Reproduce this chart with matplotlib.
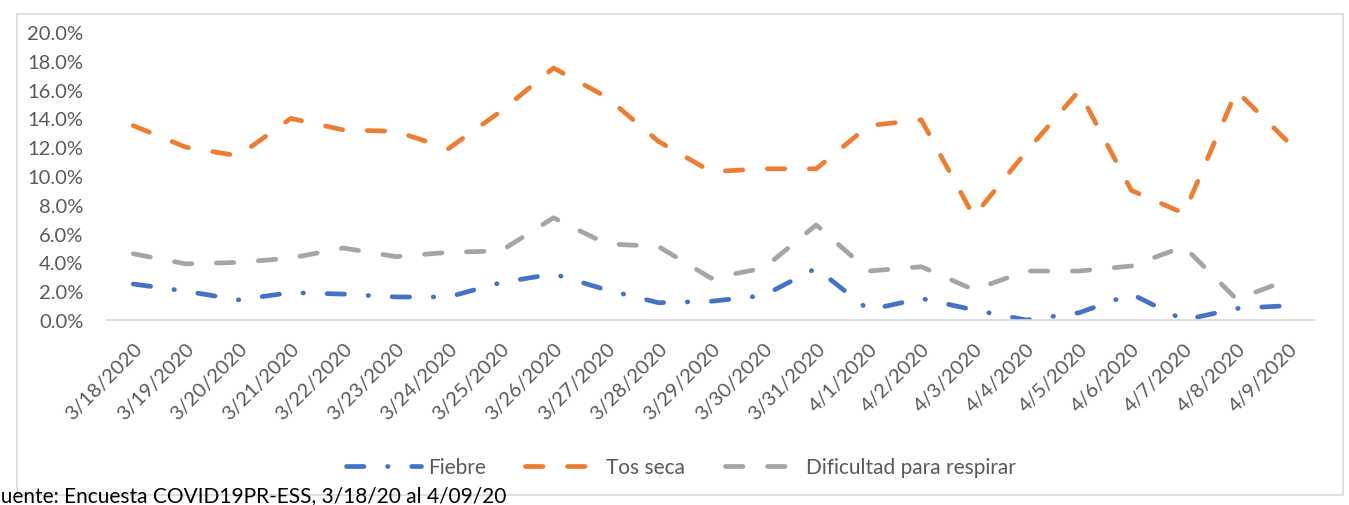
import matplotlib.pyplot as plt
from matplotlib.patches import Rectangle
from matplotlib.ticker import PercentFormatter

fechas = ["3/18/2020", "3/19/2020", "3/20/2020", "3/21/2020", "3/22/2020",
          "3/23/2020", "3/24/2020", "3/25/2020", "3/26/2020", "3/27/2020",
          "3/28/2020", "3/29/2020", "3/30/2020", "3/31/2020", "4/1/2020",
          "4/2/2020", "4/3/2020", "4/4/2020", "4/5/2020", "4/6/2020",
          "4/7/2020", "4/8/2020", "4/9/2020"]

fiebre = [2.5, 2.0, 1.4, 1.9, 1.8, 1.6, 1.6, 2.6, 3.2, 2.1, 1.2, 1.3,
          1.7, 3.6, 0.7, 1.5, 0.7, 0.0, 0.5, 1.8, 0.0, 0.8, 1.0]
tos_seca = [13.5, 12.0, 11.4, 14.0, 13.2, 13.1, 11.9, 14.5, 17.5, 15.5, 12.4, 10.3,
            10.5, 10.5, 13.5, 13.9, 7.2, 11.7, 15.9, 9.0, 7.4, 15.9, 12.3]
dificultad = [4.6, 3.9, 4.0, 4.3, 5.0, 4.4, 4.7, 4.8, 7.1, 5.3, 5.1, 2.9,
              3.6, 6.6, 3.4, 3.7, 2.1, 3.4, 3.4, 3.75, 5.1, 1.45, 2.8]

plt.rcParams['font.family'] = ['Lato', 'DejaVu Sans']
gris = '#595959'

fig = plt.figure(figsize=(13.49, 5.06), dpi=100)
fig.patches.append(Rectangle((17 / 1349, 0.02), 1326 / 1349, 0.95,
                             transform=fig.transFigure, fill=False,
                             edgecolor='#d9d9d9', linewidth=1.2))
ax = fig.add_axes([0.0793, 0.3656, 0.8957, 0.5692])

x = range(len(fechas))
lw = 3.4
ax.plot(x, fiebre, color='#4472c4', lw=lw, dash_capstyle='round',
        dashes=(3.7, 5.0, 0.1, 5.0), label='Fiebre')
ax.plot(x, tos_seca, color='#ed7d31', lw=lw, dash_capstyle='round',
        dashes=(3.7, 5.2), label='Tos seca')
ax.plot(x, dificultad, color='#a5a5a5', lw=lw, dash_capstyle='round',
        dashes=(3.7, 5.2), label='Dificultad para respirar')

ax.set_xlim(-0.5, len(fechas) - 0.5)
ax.set_ylim(0, 20)
ax.set_yticks(range(0, 21, 2))
ax.yaxis.set_major_formatter(PercentFormatter(decimals=1))
ax.set_xticks(list(x))
ax.set_xticklabels(fechas, rotation=45, ha='right', rotation_mode='anchor')
ax.tick_params(axis='both', length=0, labelsize=14.5, colors=gris)
ax.tick_params(axis='y', pad=17)
ax.tick_params(axis='x', pad=14)
for s in ['top', 'right', 'left']:
    ax.spines[s].set_visible(False)
ax.spines['bottom'].set_color('#d9d9d9')
ax.spines['bottom'].set_linewidth(1.2)

leg = fig.legend(loc='center', bbox_to_anchor=(0.505, 0.075), ncol=3, frameon=False,
                 fontsize=15, handlelength=3.6, handletextpad=0.3, columnspacing=1.9)
for t in leg.get_texts():
    t.set_color(gris)

fig.text(-0.0085, 0.0, 'Fuente: Encuesta COVID19PR-ESS, 3/18/20 al 4/09/20',
         fontsize=15, color='black', ha='left', va='bottom')

fig.savefig('out.png', dpi=100)
